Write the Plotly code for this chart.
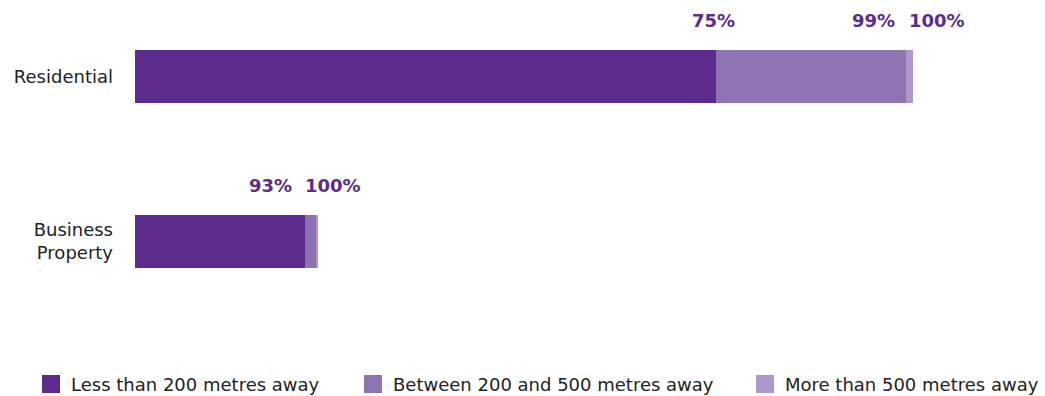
import plotly.graph_objects as go

# Properties by distance band (counts per category)
categories = ["Residential", "Business Property"]
category_ticktext = ["Residential", "Business<br>Property"]
bands = ["Less than 200 metres away", "Between 200 and 500 metres away", "More than 500 metres away"]
counts = {
    "Less than 200 metres away": [3360, 984],
    "Between 200 and 500 metres away": [1102, 68],
    "More than 500 metres away": [38, 4],
}
colors = ["#5B2C8E", "#8E73B3", "#AE98CB"]

# label placement nudges (px) for cumulative share labels: per category, per shown label
label_shifts = {
    "Residential": [-2, -33, 24],
    "Business Property": [-35, 16],
}

FONT = "DejaVu Sans"
W, H = 1045, 396
ML, MR, MT, MB = 135, 46, 10, 56
PW = W - ML - MR
PH = H - MT - MB

fig = go.Figure()
for band, col in zip(bands, colors):
    fig.add_trace(go.Bar(
        y=categories, x=counts[band], name=band, orientation="h",
        marker=dict(color=col, line=dict(width=0)), width=0.32,
        showlegend=False, hoverinfo="skip",
    ))

# cumulative share labels at the end of each segment
for ci, cat in enumerate(categories):
    total = sum(counts[b][ci] for b in bands)
    run = 0
    labels = []
    for b in bands:
        run += counts[b][ci]
        pct = round(100 * run / total)
        if labels and labels[-1][0] == pct:
            labels[-1] = (pct, run)
        else:
            labels.append((pct, run))
    for (pct, pos), dx in zip(labels, label_shifts[cat]):
        fig.add_annotation(
            x=pos, y=cat, xref="x", yref="y", text=f"<b>{pct}%</b>",
            showarrow=False, xanchor="center", yanchor="middle",
            xshift=dx, yshift=56,
            font=dict(family=FONT, size=18, color="#5B2C8E"),
        )

# legend row
def px_x(p):
    return (p - ML) / PW

def px_y(p):
    return (H - MB - p) / PH

legend_x = [42, 364, 756]
for x0, band, col in zip(legend_x, bands, colors):
    fig.add_shape(type="rect", xref="paper", yref="paper",
                  x0=px_x(x0), x1=px_x(x0 + 18), y0=px_y(393), y1=px_y(375),
                  fillcolor=col, line=dict(width=0))
    fig.add_annotation(x=px_x(x0 + 27), y=px_y(384), xref="paper", yref="paper",
                       text=band, showarrow=False, xanchor="left", yanchor="middle",
                       font=dict(family=FONT, size=18, color="#222222"))

fig.update_layout(
    width=W, height=H,
    margin=dict(l=ML, r=MR, t=MT, b=MB),
    barmode="stack", bargap=0,
    plot_bgcolor="white", paper_bgcolor="white",
    xaxis=dict(range=[0, 5000], visible=False, fixedrange=True),
    yaxis=dict(
        type="category", range=[1.597, -0.403],
        tickvals=categories, ticktext=category_ticktext,
        showgrid=False, zeroline=False, showline=False, ticks="",
        ticklabelstandoff=21,
        tickfont=dict(family=FONT, size=18, color="#222222"),
    ),
    font=dict(family=FONT),
)

fig.write_html("out.html")
